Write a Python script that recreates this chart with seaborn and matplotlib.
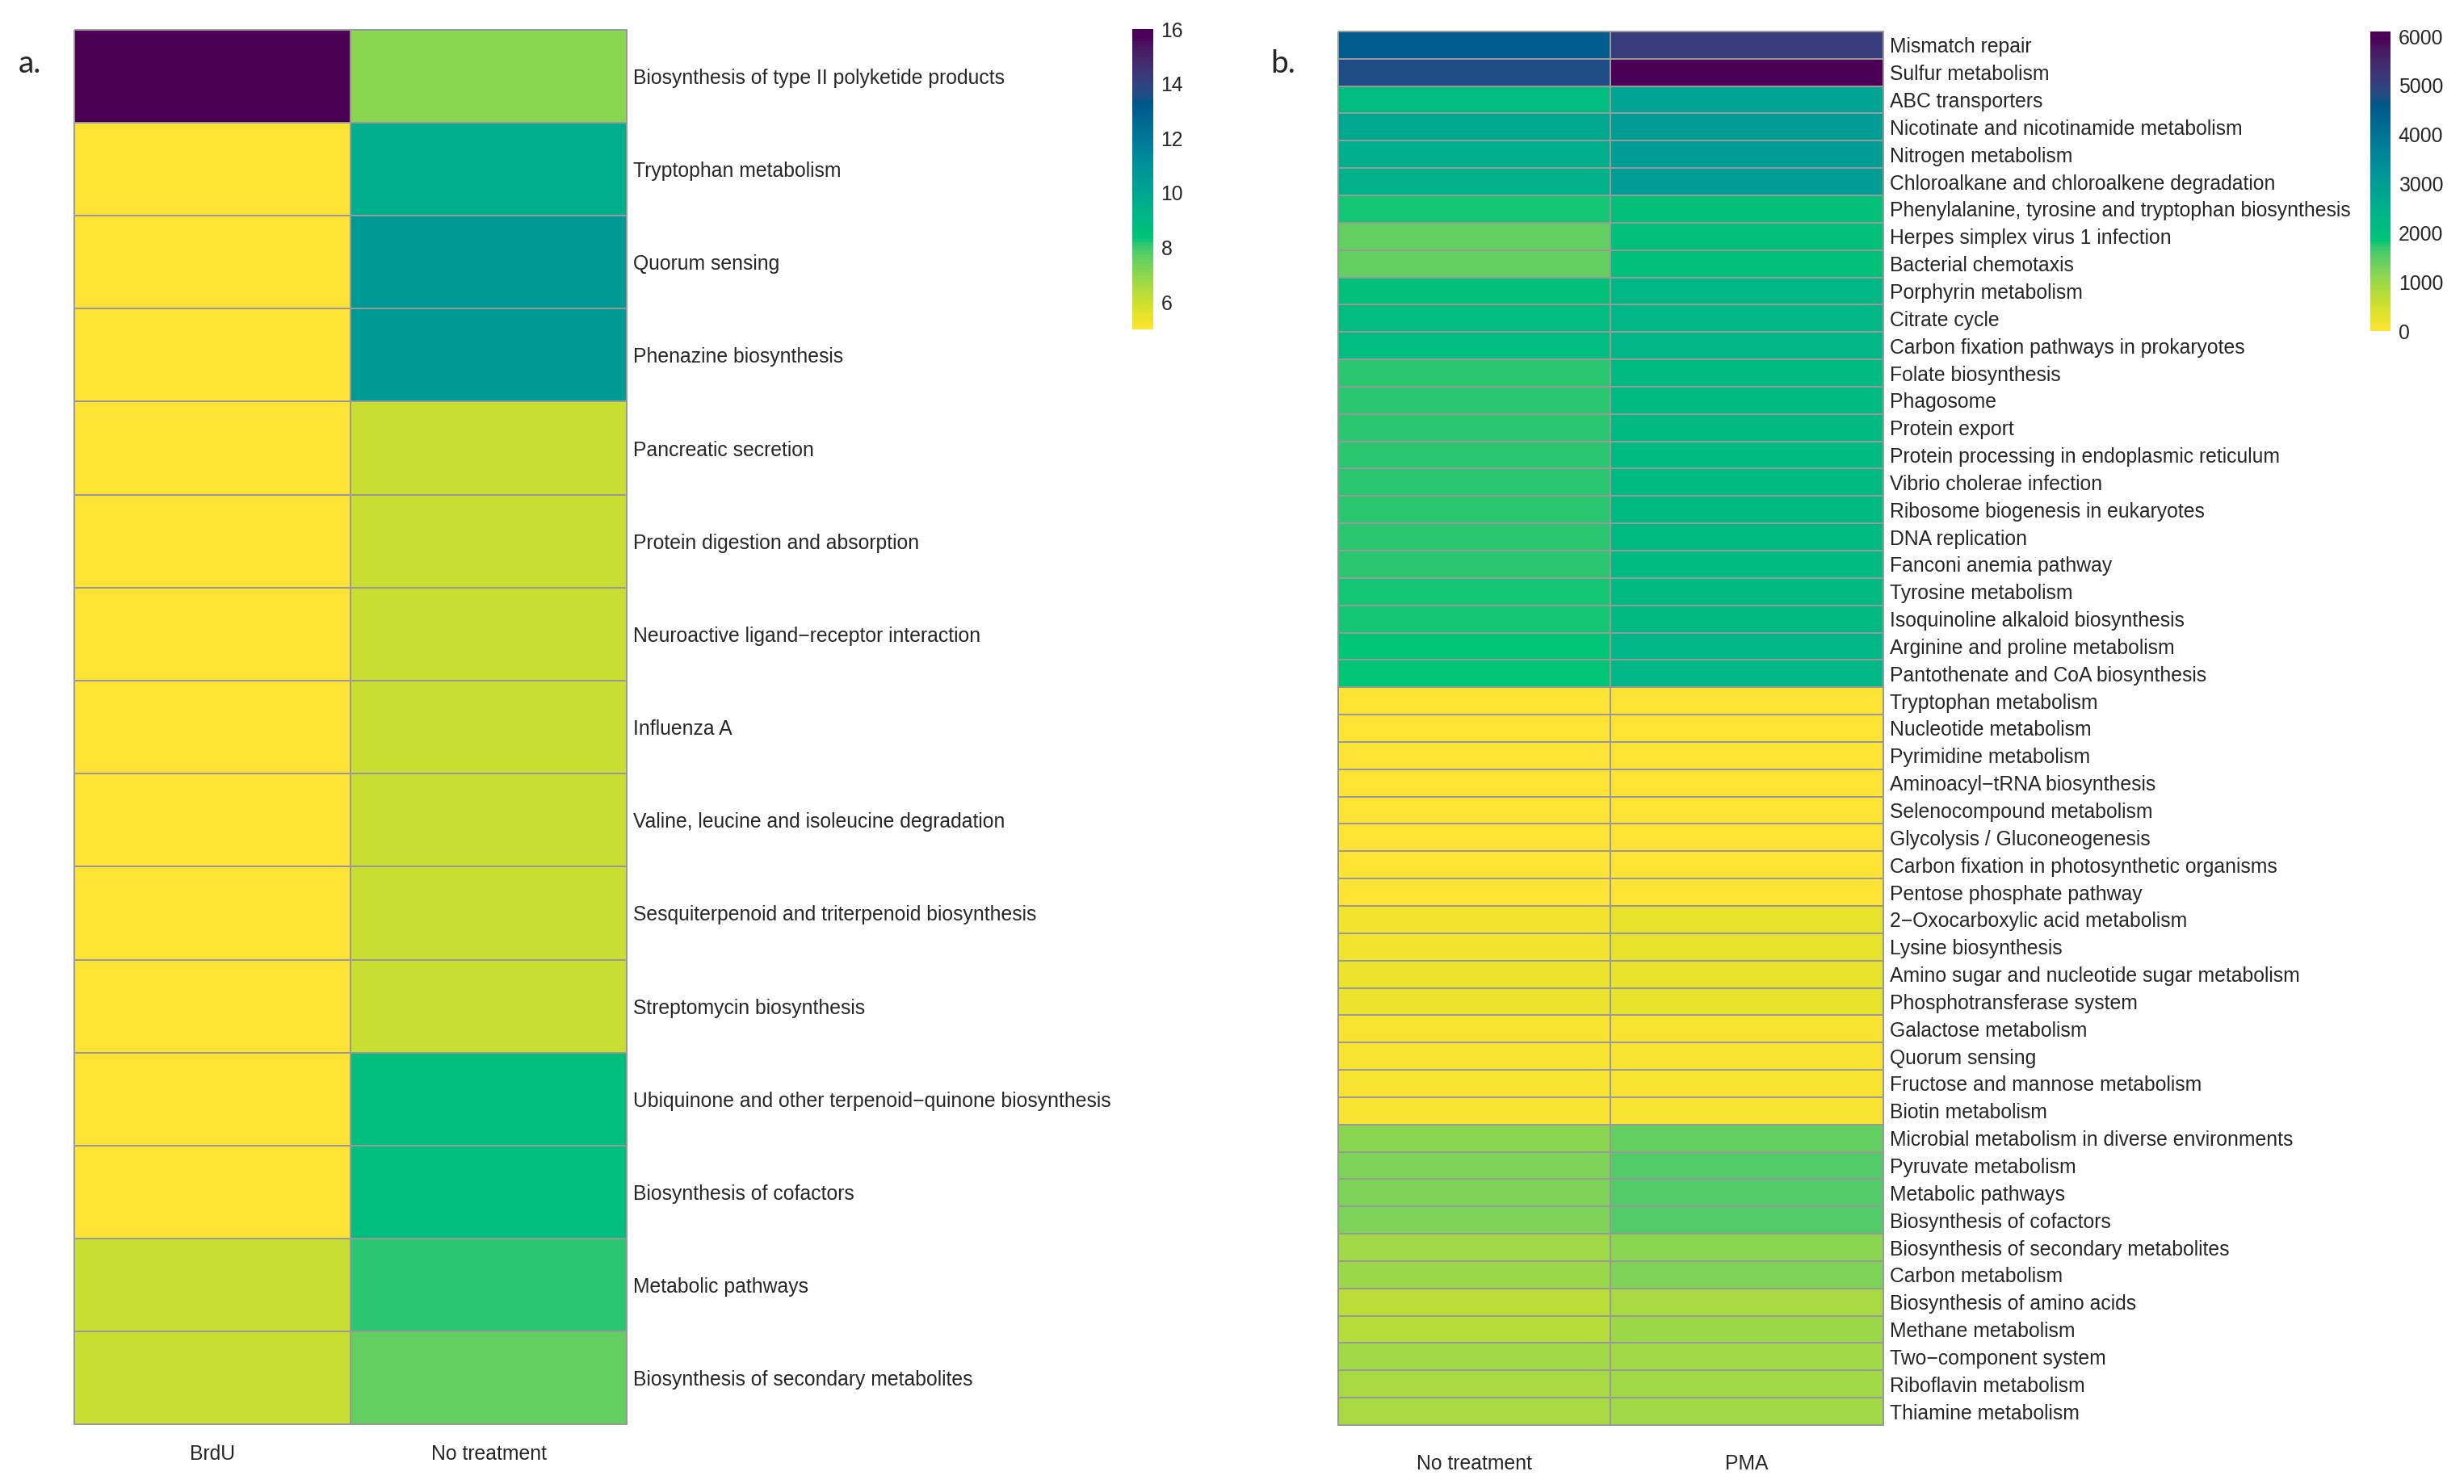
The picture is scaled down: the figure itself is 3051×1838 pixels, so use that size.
import numpy as np
import pandas as pd
import matplotlib
matplotlib.use("Agg")
import matplotlib.pyplot as plt
from matplotlib.colors import ListedColormap
import seaborn as sns

# ---------------- data: panel a ----------------
a_pathways = [
    "Biosynthesis of type II polyketide products",
    "Tryptophan metabolism",
    "Quorum sensing",
    "Phenazine biosynthesis",
    "Pancreatic secretion",
    "Protein digestion and absorption",
    "Neuroactive ligand\u2212receptor interaction",
    "Influenza A",
    "Valine, leucine and isoleucine degradation",
    "Sesquiterpenoid and triterpenoid biosynthesis",
    "Streptomycin biosynthesis",
    "Ubiquinone and other terpenoid\u2212quinone biosynthesis",
    "Biosynthesis of cofactors",
    "Metabolic pathways",
    "Biosynthesis of secondary metabolites",
]
a_columns = ["BrdU", "No treatment"]
a_brdu = [16, 5, 5, 5, 5, 5, 5, 5, 5, 5, 5, 5, 5, 6, 6]
a_notreat = [7.0, 9.6, 10.6, 10.6, 6.0, 6.0, 6.0, 6.0, 6.0, 6.0, 6.0, 8.7, 8.7, 8.1, 7.6]
a_ticks = [6, 8, 10, 12, 14, 16]

# ---------------- data: panel b ----------------
b_pathways = [
    "Mismatch repair",
    "Sulfur metabolism",
    "ABC transporters",
    "Nicotinate and nicotinamide metabolism",
    "Nitrogen metabolism",
    "Chloroalkane and chloroalkene degradation",
    "Phenylalanine, tyrosine and tryptophan biosynthesis",
    "Herpes simplex virus 1 infection",
    "Bacterial chemotaxis",
    "Porphyrin metabolism",
    "Citrate cycle",
    "Carbon fixation pathways in prokaryotes",
    "Folate biosynthesis",
    "Phagosome",
    "Protein export",
    "Protein processing in endoplasmic reticulum",
    "Vibrio cholerae infection",
    "Ribosome biogenesis in eukaryotes",
    "DNA replication",
    "Fanconi anemia pathway",
    "Tyrosine metabolism",
    "Isoquinoline alkaloid biosynthesis",
    "Arginine and proline metabolism",
    "Pantothenate and CoA biosynthesis",
    "Tryptophan metabolism",
    "Nucleotide metabolism",
    "Pyrimidine metabolism",
    "Aminoacyl\u2212tRNA biosynthesis",
    "Selenocompound metabolism",
    "Glycolysis / Gluconeogenesis",
    "Carbon fixation in photosynthetic organisms",
    "Pentose phosphate pathway",
    "2\u2212Oxocarboxylic acid metabolism",
    "Lysine biosynthesis",
    "Amino sugar and nucleotide sugar metabolism",
    "Phosphotransferase system",
    "Galactose metabolism",
    "Quorum sensing",
    "Fructose and mannose metabolism",
    "Biotin metabolism",
    "Microbial metabolism in diverse environments",
    "Pyruvate metabolism",
    "Metabolic pathways",
    "Biosynthesis of cofactors",
    "Biosynthesis of secondary metabolites",
    "Carbon metabolism",
    "Biosynthesis of amino acids",
    "Methane metabolism",
    "Two\u2212component system",
    "Riboflavin metabolism",
    "Thiamine metabolism",
]
b_columns = ["No treatment", "PMA"]
b_notreat = [4500, 4800, 2100, 2700, 2560, 2470, 1790, 1440, 1440, 2000,
             2100, 2100, 1725, 1725, 1725, 1725, 1725, 1725, 1725, 1725,
             1770, 1770, 1840, 1840, 0, 0, 0, 0, 0, 0,
             0, 0, 175, 175, 190, 190, 120, 120, 120, 120,
             1110, 1280, 1230, 1230, 955, 1020, 700, 750, 915, 905,
             860]
b_pma = [5070, 6100, 2860, 3000, 3000, 3000, 2010, 2010, 2010, 2280,
         2280, 2280, 2160, 2160, 2160, 2160, 2160, 2160, 2160, 2160,
         2220, 2220, 2280, 2280, 0, 0, 0, 0, 0, 0,
         0, 0, 245, 245, 270, 270, 120, 120, 120, 120,
         1440, 1535, 1535, 1535, 1155, 1230, 860, 1020, 915, 960,
         960]
b_ticks = [0, 1000, 2000, 3000, 4000, 5000, 6000]


# ---------------- HCL "Viridis" palette (sequential_hcl) ----------------
def hcl_viridis(n=100):
    i = np.linspace(1.0, 0.0, n)
    L = 90 - 75 * i ** 1.1
    C = 95 - 55 * i
    H = np.deg2rad(75 + 225 * i)
    u = C * np.cos(H)
    v = C * np.sin(H)
    Xn, Yn, Zn = 95.047, 100.0, 108.883
    den = Xn + 15 * Yn + 3 * Zn
    un, vn = 4 * Xn / den, 9 * Yn / den
    Y = np.where(L > 7.999592, Yn * ((L + 16) / 116) ** 3, Yn * L / 903.3)
    up = u / (13 * L) + un
    vp = v / (13 * L) + vn
    X = 9.0 * Y * up / (4 * vp)
    Z = -X / 3 - 5 * Y + 3 * Y / vp
    M = np.array([[3.240479, -1.537150, -0.498535],
                  [-0.969256, 1.875992, 0.041556],
                  [0.055648, -0.204043, 1.057311]])
    rgb = (M @ np.vstack([X, Y, Z])) / 100.0
    rgb = np.clip(rgb, 0, 1)
    rgb = np.where(rgb > 0.0031308, 1.055 * rgb ** (1 / 2.4) - 0.055, 12.92 * rgb)
    return np.clip(rgb.T, 0, 1)


cols = hcl_viridis(100)
cmap = ListedColormap(cols[::-1])

sns.set_theme(style="white")
plt.rcParams["font.family"] = ["Liberation Sans", "DejaVu Sans"]

FS = 17.8
GRID = "#999999"

df_a = pd.DataFrame({a_columns[0]: a_brdu, a_columns[1]: a_notreat}, index=a_pathways)
df_b = pd.DataFrame({b_columns[0]: b_notreat, b_columns[1]: b_pma}, index=b_pathways)

fig = plt.figure(figsize=(30.51, 18.38), dpi=100)
fig.patch.set_facecolor("white")

ax_a = fig.add_axes([0.0301, 0.0400, 0.2243, 0.9400])
cax_a = fig.add_axes([0.4595, 0.7780, 0.0085, 0.2024])
ax_b = fig.add_axes([0.5431, 0.0397, 0.2212, 0.9391])
cax_b = fig.add_axes([0.9620, 0.7769, 0.0082, 0.2019])


def draw(df, ax, cax, ticks, xpad):
    sns.heatmap(df, ax=ax, cbar_ax=cax, cmap=cmap,
                vmin=float(df.values.min()), vmax=float(df.values.max()),
                linewidths=1.4, linecolor=GRID,
                xticklabels=True, yticklabels=True,
                cbar_kws={"ticks": ticks})
    ax.collections[0].set_clip_on(False)
    ax.yaxis.tick_right()
    ax.set_yticks(np.arange(len(df.index)) + 0.5)
    ax.set_yticklabels(list(df.index), rotation=0, ha="left",
                       va="center_baseline", fontsize=FS)
    ax.set_xticks(np.arange(len(df.columns)) + 0.5)
    ax.set_xticklabels(list(df.columns), rotation=0, fontsize=FS)
    ax.tick_params(axis="y", length=0, pad=5.5)
    ax.tick_params(axis="x", length=0, pad=xpad)
    ax.set_xlabel("")
    ax.set_ylabel("")
    for s in ax.spines.values():
        s.set_visible(False)
    cb = ax.collections[0].colorbar
    cb.outline.set_visible(False)
    cax.tick_params(length=0, pad=7, labelsize=FS)


draw(df_a, ax_a, cax_a, a_ticks, 18)
draw(df_b, ax_b, cax_b, b_ticks, 26)

fig.text(0.0075, 0.951, "a.", fontsize=28, family=["Lato", "DejaVu Sans"], va="baseline", ha="left")
fig.text(0.5156, 0.951, "b.", fontsize=28, family=["Lato", "DejaVu Sans"], va="baseline", ha="left")

fig.savefig("out.png", dpi=100, facecolor="white")
